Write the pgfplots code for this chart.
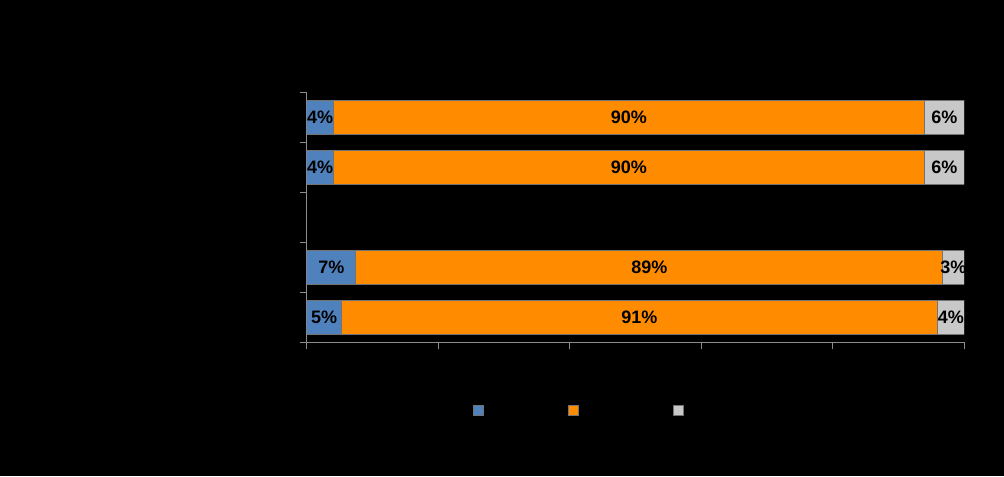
\documentclass[border=0pt]{standalone}
\usepackage{fontspec}
\setmainfont{Liberation Sans}
\usepackage{pgfplots}
\pgfplotsset{compat=1.18}
\definecolor{cblue}{HTML}{4F81BD}
\definecolor{corange}{HTML}{FF8C00}
\definecolor{cgray}{HTML}{C8C8C8}
\definecolor{cedge}{HTML}{737373}
\definecolor{caxis}{HTML}{8C8C8C}
\begin{document}
\begin{tikzpicture}
\fill[black] (-230.25pt,-100.5pt) rectangle (522.75pt,256.5pt);
\begin{axis}[
  at={(0,0)}, anchor=south west,
  scale only axis, width=492.75pt, height=187.5pt,
  xbar stacked, bar width=25.5pt,
  xmin=0, xmax=100, ymin=0.5, ymax=5.5,
  xtick={0,20,40,60,80,100}, xticklabels={},
  ytick={0.5,1.5,2.5,3.5,4.5,5.5}, yticklabels={},
  axis lines=left, axis line style={-, draw=caxis, line width=0.75pt},
  tick align=outside, major tick length=5.5pt,
  tick style={draw=caxis, line width=0.75pt},
  visualization depends on=rawx \as \rawx,
  nodes near coords={\pgfmathprintnumber[fixed,precision=0,assume math mode=true]{\rawx}\%},
  every node near coord/.append style={anchor=center, text=black,
     font=\fontsize{13.5}{16}\selectfont\bfseries},
  legend columns=3,
  legend style={at={(0.2527,-0.272)}, anchor=west, draw=none, fill=none,
     inner sep=0pt, nodes={inner sep=0pt},
     /tikz/every even column/.append style={column sep=0pt}},
  legend image code/.code={\draw[#1, draw=cedge, line width=0.75pt] (0pt,-3.75pt) rectangle (7.5pt,3.75pt);},
]
\addplot[fill=cblue, draw=cedge, line width=0.75pt] coordinates {(4,5) (4,4) (7.4,2) (5.2,1)};
\addplot[fill=corange, draw=cedge, line width=0.75pt] coordinates {(90,5) (90,4) (89.4,2) (90.8,1)};
\addplot[fill=cgray, draw=cedge, line width=0.75pt] coordinates {(6,5) (6,4) (3.2,2) (4,1)};
\legend{\hspace*{63pt}, \hspace*{70.5pt}, \hspace*{10pt}}
\end{axis}
\end{tikzpicture}
\end{document}
